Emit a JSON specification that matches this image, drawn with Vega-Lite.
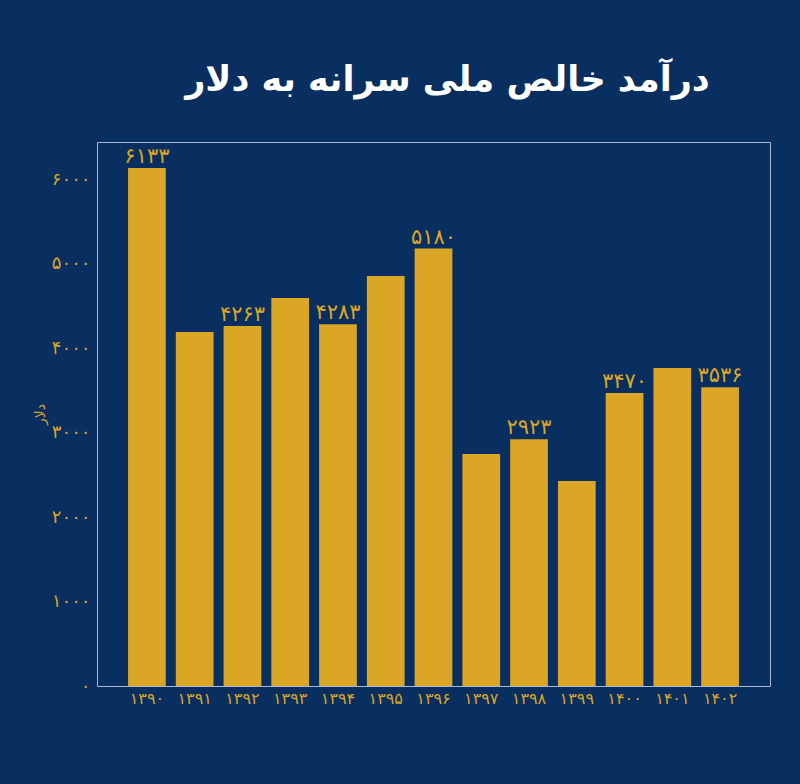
{
  "$schema": "https://vega.github.io/schema/vega-lite/v6.json",
  "width": 673,
  "height": 544,
  "autosize": {"type": "none"},
  "padding": {"left": 97, "top": 142, "right": 30, "bottom": 98},
  "background": "#082f5f",
  "title": {
    "text": "درآمد خالص ملی سرانه به دلار",
    "font": "DejaVu Sans",
    "fontSize": 35,
    "fontWeight": "bold",
    "color": "#ffffff",
    "anchor": "middle",
    "dx": 14,
    "offset": 44
  },
  "config": {
    "view": {"stroke": "#a9b7cc", "strokeWidth": 1},
    "axis": {"grid": false, "ticks": false, "domain": false, "labelFont": "DejaVu Sans", "titleFont": "DejaVu Sans", "labelColor": "#dba526", "titleColor": "#dba526"}
  },
  "data": {
    "values": [
      {"year": "۱۳۹۰", "value": 6133, "label": "۶۱۳۳"},
      {"year": "۱۳۹۱", "value": 4191, "label": ""},
      {"year": "۱۳۹۲", "value": 4263, "label": "۴۲۶۳"},
      {"year": "۱۳۹۳", "value": 4594, "label": ""},
      {"year": "۱۳۹۴", "value": 4283, "label": "۴۲۸۳"},
      {"year": "۱۳۹۵", "value": 4854, "label": ""},
      {"year": "۱۳۹۶", "value": 5180, "label": "۵۱۸۰"},
      {"year": "۱۳۹۷", "value": 2747, "label": ""},
      {"year": "۱۳۹۸", "value": 2923, "label": "۲۹۲۳"},
      {"year": "۱۳۹۹", "value": 2427, "label": ""},
      {"year": "۱۴۰۰", "value": 3470, "label": "۳۴۷۰"},
      {"year": "۱۴۰۱", "value": 3765, "label": ""},
      {"year": "۱۴۰۲", "value": 3536, "label": "۳۵۳۶"}
    ]
  },
  "encoding": {
    "x": {
      "field": "year",
      "type": "nominal",
      "sort": null,
      "scale": {"paddingInner": 0.21, "paddingOuter": 0.65},
      "axis": {"title": null, "labelAngle": 0, "labelFontSize": 16, "labelPadding": 4}
    },
    "y": {
      "field": "value",
      "type": "quantitative",
      "scale": {"domain": [0, 6441], "nice": false},
      "axis": {
        "title": "دلار",
        "titleFontSize": 14,
        "titleFontWeight": "normal",
        "titlePadding": 4,
        "values": [0, 1000, 2000, 3000, 4000, 5000, 6000],
        "labelFontSize": 18,
        "labelPadding": 7,
        "labelExpr": "replace(replace(replace(replace(replace(replace(replace(format(datum.value, 'd'), /0/g, '۰'), /1/g, '۱'), /2/g, '۲'), /3/g, '۳'), /4/g, '۴'), /5/g, '۵'), /6/g, '۶')"
      }
    }
  },
  "layer": [
    {"mark": {"type": "bar", "color": "#dba526"}},
    {
      "mark": {"type": "text", "color": "#dba526", "font": "DejaVu Sans", "fontSize": 21, "baseline": "bottom", "dy": -1},
      "encoding": {"text": {"field": "label"}}
    }
  ]
}
